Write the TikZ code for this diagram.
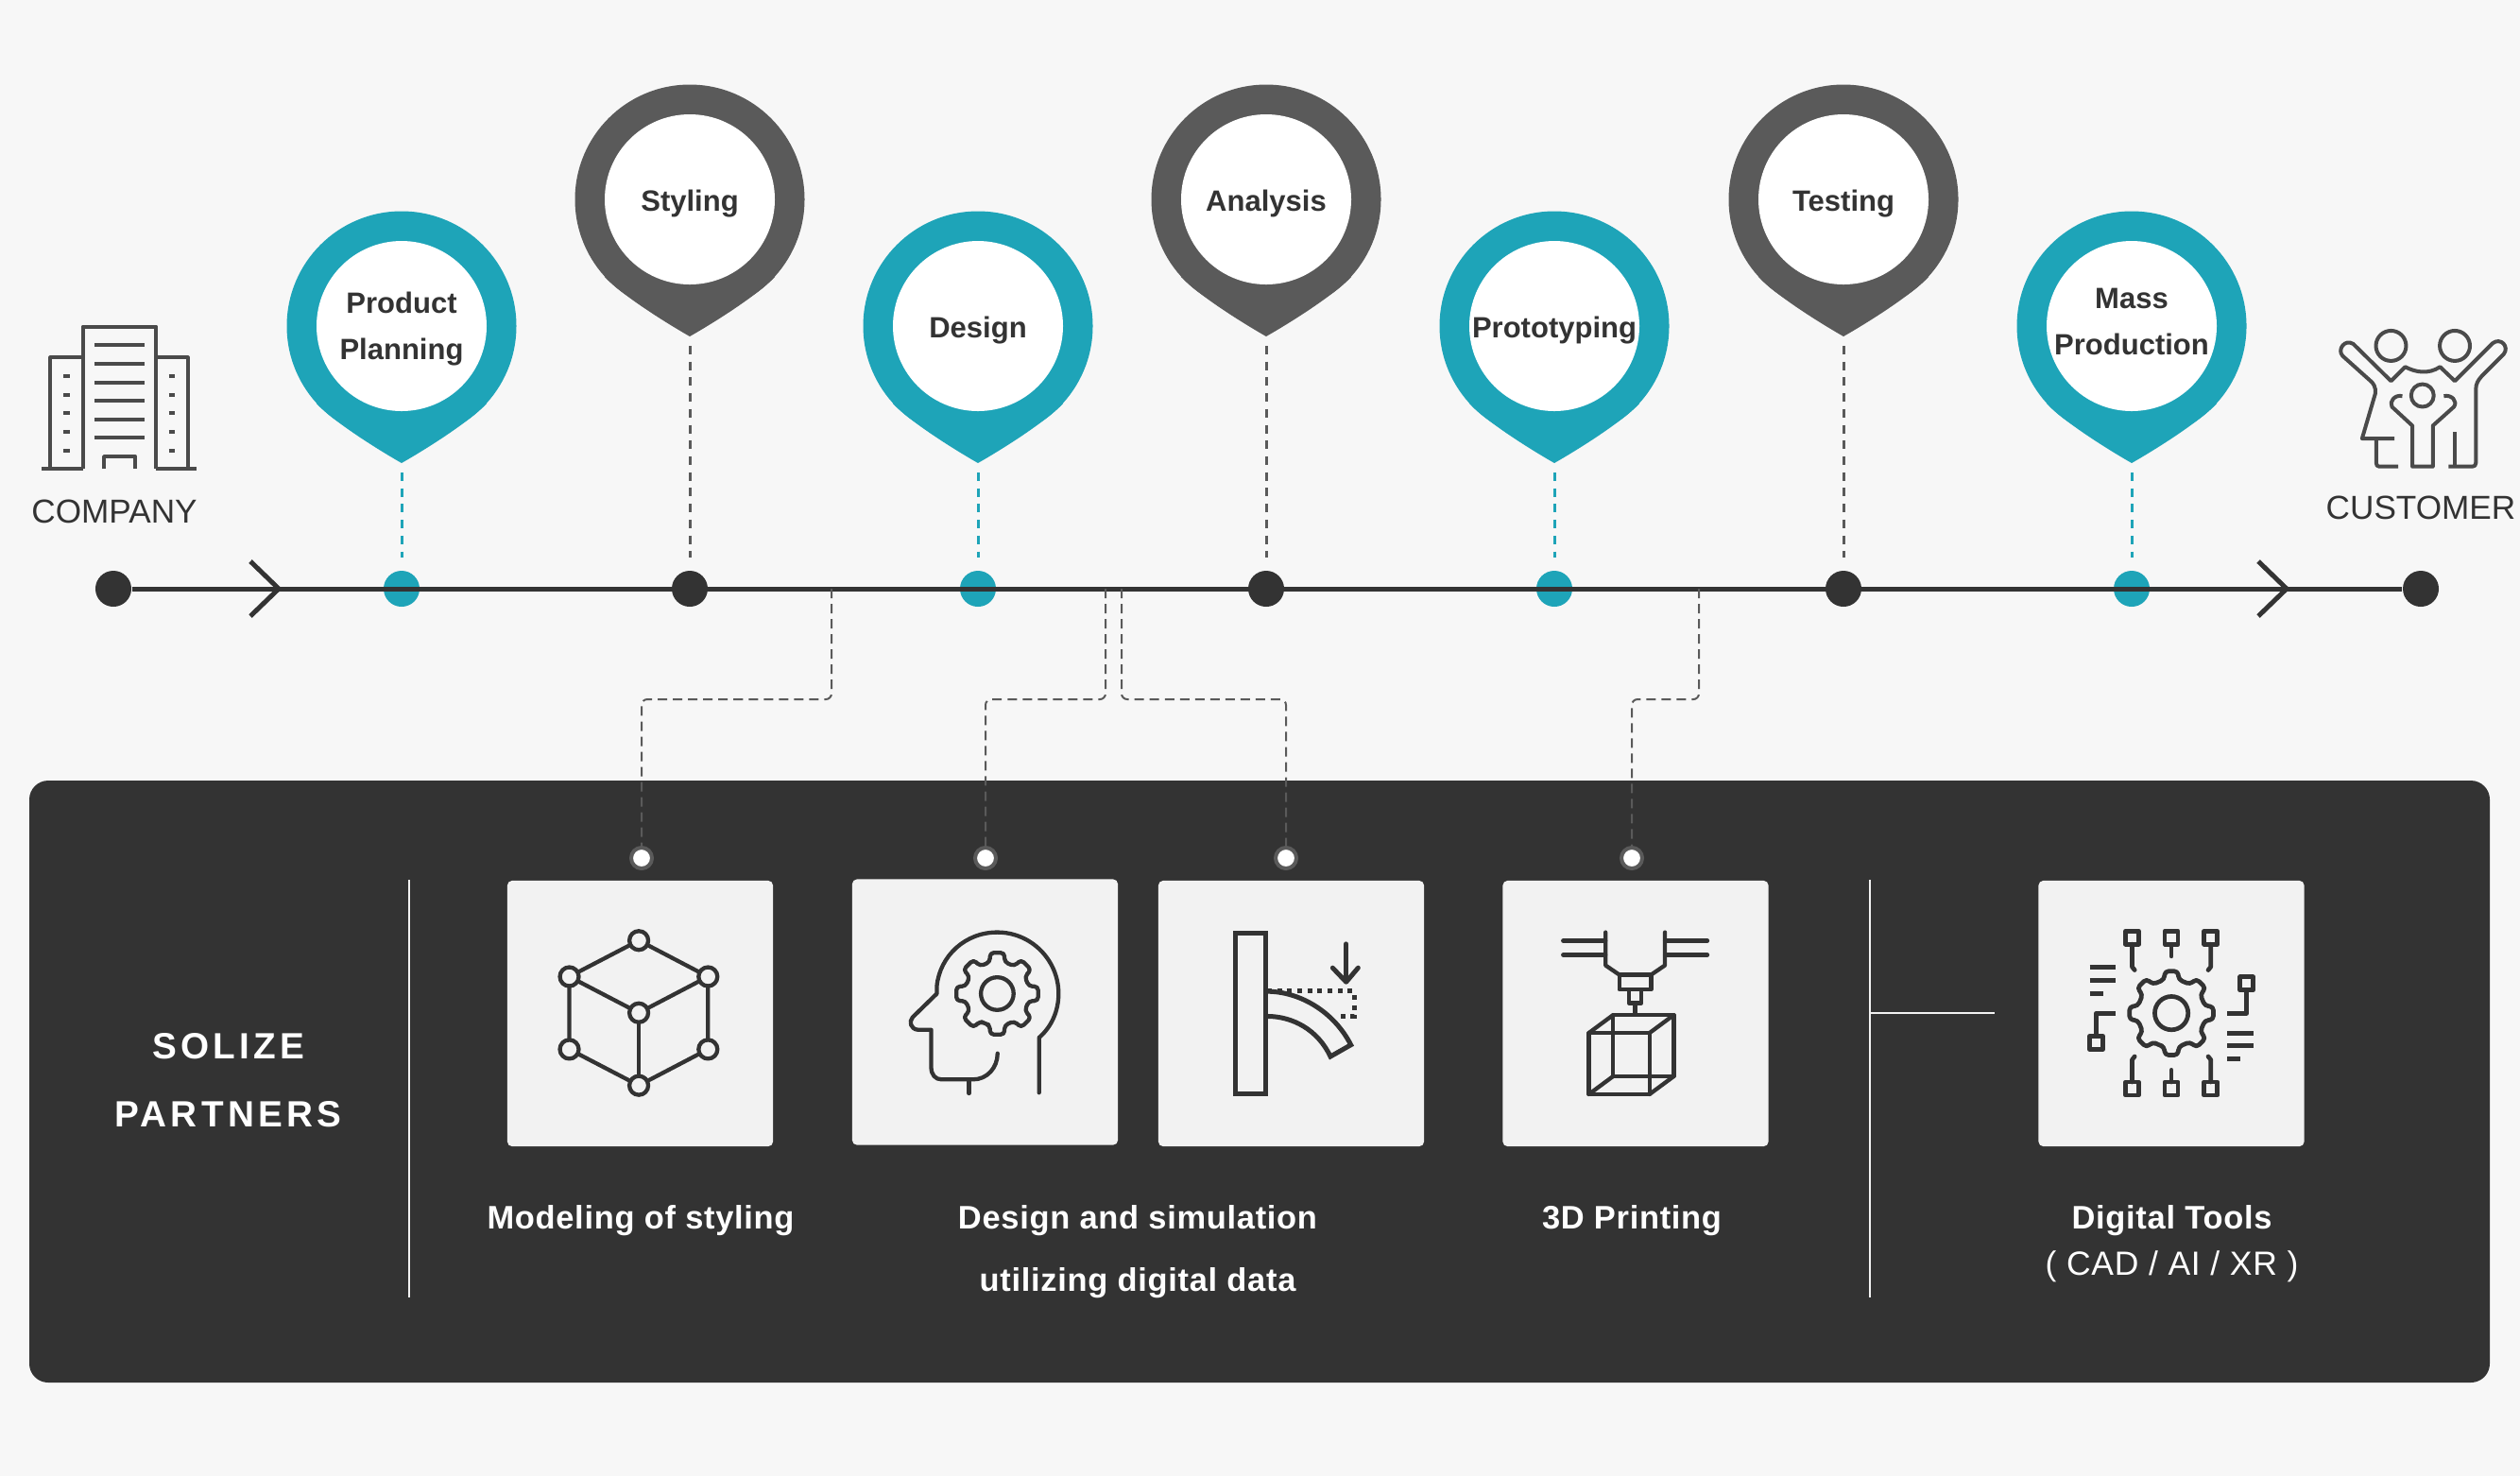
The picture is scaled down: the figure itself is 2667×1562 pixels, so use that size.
\documentclass[tikz,border=0pt]{standalone}
\usepackage{fontspec}
\setmainfont{Liberation Sans}
\newfontfamily\trackedfont[LetterSpace=11]{Liberation Sans}
\newfontfamily\lablfont[LetterSpace=2]{Liberation Sans}
\definecolor{pagegray}{HTML}{F7F7F7}
\definecolor{ink}{HTML}{333333}
\definecolor{pinteal}{HTML}{1EA4B8}
\definecolor{pindark}{HTML}{5A5A5A}
\definecolor{cardgray}{HTML}{F2F2F2}
\definecolor{buildgray}{HTML}{4A4A4A}

% marker pin: x, y of the disc, colour, name of the tip
\newcommand{\markerpin}[4]{%
  \fill[#3] (#1,#2) circle [radius=121.5];
  \fill[#3] (#1,#2+145) .. controls (#1+28,#2+129) and (#1+72,#2+101) .. (#1+90,#2+82)
    -- (#1-90,#2+82) .. controls (#1-72,#2+101) and (#1-28,#2+129) .. (#1,#2+145) -- cycle;
  \fill[white] (#1,#2) circle [radius=90];
  \coordinate (#4) at (#1,#2+145);
}
% gear: outer radius, root radius, half width of a tooth at the top and at the root
\newcommand{\gearpath}[4]{%
  (112.5:#2) foreach \a in {90,45,0,-45,-90,-135,-180,-225} {
    -- (\a+#4:#2) -- (\a+#3:#1) -- (\a-#3:#1) -- (\a-#4:#2) } -- cycle
}

\begin{document}
\begin{tikzpicture}[x=0.01cm, y=-0.01cm,
    pintext/.style={anchor=base, align=center, inner sep=0pt, text=ink,
      font=\fontsize{8.82}{13.8}\selectfont\bfseries},
    headtext/.style={anchor=base, inner sep=0pt, text=ink, font=\fontsize{10}{12}\selectfont},
    paneltext/.style={anchor=base, align=center, inner sep=0pt, text=white,
      font=\lablfont\fontsize{9.8}{18.5}\selectfont\bfseries},
    titletext/.style={anchor=base, inner sep=0pt, text=white,
      font=\trackedfont\fontsize{11}{12}\selectfont\bfseries},
    tealdot/.style={circle, fill=pinteal, inner sep=0pt, minimum size=0.38cm},
    darkdot/.style={circle, fill=ink, inner sep=0pt, minimum size=0.38cm},
    portdot/.style={circle, fill=white, draw=pindark, line width=0.04cm, inner sep=0pt, minimum size=0.22cm},
    card/.style={rectangle, fill=cardgray, rounded corners=0.05cm, inner sep=0pt, minimum size=2.81cm},
    timeline/.style={draw=ink, line width=0.05cm},
    tealdash/.style={draw=pinteal, line width=0.03cm, dash pattern=on 0.09cm off 0.077cm,
      shorten <=0.1cm, shorten >=0.13cm},
    darkdash/.style={draw=pindark, line width=0.03cm, dash pattern=on 0.09cm off 0.077cm,
      shorten <=0.1cm, shorten >=0.13cm},
    partnerdash/.style={draw=pindark, line width=0.02cm, dash pattern=on 0.1cm off 0.06cm,
      rounded corners=0.06cm},
    rule/.style={draw=cardgray, line width=0.025cm},
    iconline/.style={draw=ink, line width=0.043cm, line join=round, line cap=round},
    toolline/.style={draw=ink, line width=0.047cm, line join=round, line cap=round},
    buildline/.style={draw=buildgray, line width=0.04cm, line join=round}]

    \useasboundingbox (0,0) rectangle (2667,1562);
    \fill[pagegray] (0,0) rectangle (2667,1562);

    % constants
    \def\liney{623}
    \def\hiy{211}
    \def\loy{345}

    % pins
    \markerpin{425}{\loy}{pinteal}{tipproduct}
    \markerpin{730}{\hiy}{pindark}{tipstyling}
    \markerpin{1035}{\loy}{pinteal}{tipdesign}
    \markerpin{1340}{\hiy}{pindark}{tipanalysis}
    \markerpin{1645}{\loy}{pinteal}{tipproto}
    \markerpin{1951}{\hiy}{pindark}{tiptesting}
    \markerpin{2256}{\loy}{pinteal}{tipmass}

    \node[pintext] (product) at (425,380) {Product\\Planning};
    \node[pintext] (styling) at (730,223) {Styling};
    \node[pintext] (design) at (1035,357) {Design};
    \node[pintext] (analysis) at (1340,223) {Analysis};
    \node[pintext] (proto) at (1645,357) {Prototyping};
    \node[pintext] (testing) at (1951,223) {Testing};
    \node[pintext] (mass) at (2256,375) {Mass\\Production};

    % time line
    \node[darkdot] (start) at (120,\liney) {};
    \node[tealdot] (dproduct) at (425,\liney) {};
    \node[darkdot] (dstyling) at (730,\liney) {};
    \node[tealdot] (ddesign) at (1035,\liney) {};
    \node[darkdot] (danalysis) at (1340,\liney) {};
    \node[tealdot] (dproto) at (1645,\liney) {};
    \node[darkdot] (dtesting) at (1951,\liney) {};
    \node[tealdot] (dmass) at (2256,\liney) {};
    \node[darkdot] (end) at (2562,\liney) {};
    \draw[timeline] (start) -- (end);
    \draw[timeline] (265,\liney-29) -- (295,\liney) -- (265,\liney+29);
    \draw[timeline] (2390,\liney-29) -- (2420,\liney) -- (2390,\liney+29);

    \draw[tealdash] (tipproduct) -- (dproduct);
    \draw[darkdash] (tipstyling) -- (dstyling);
    \draw[tealdash] (tipdesign) -- (ddesign);
    \draw[darkdash] (tipanalysis) -- (danalysis);
    \draw[tealdash] (tipproto) -- (dproto);
    \draw[darkdash] (tiptesting) -- (dtesting);
    \draw[tealdash] (tipmass) -- (dmass);

    % partner panel
    \fill[ink, rounded corners=0.2cm] (31,826) rectangle (2635,1463);

    \node[card] (cardcube) at (677.5,1072.5) {};
    \node[card] (cardhead) at (1042.5,1071) {};
    \node[card] (cardbeam) at (1366.5,1072.5) {};
    \node[card] (cardprint) at (1731,1072.5) {};
    \node[card] (cardtools) at (2298,1072.5) {};

    \draw[rule] (433,931) -- (433,1373);
    \draw[rule] (1979,931) -- (1979,1373);
    \draw[rule] (1979,1072) -- (2111,1072);

    % links from the time line to the panel
    \coordinate (tapstyling) at (880,\liney);
    \coordinate (taphead) at (1170,\liney);
    \coordinate (tapbeam) at (1187,\liney);
    \coordinate (tapprint) at (1798,\liney);
    \node[portdot] (portcube) at (679,908) {};
    \node[portdot] (porthead) at (1043,908) {};
    \node[portdot] (portbeam) at (1361,908) {};
    \node[portdot] (portprint) at (1727,908) {};
    \draw[partnerdash] (tapstyling) -- (880,740) -| (portcube);
    \draw[partnerdash] (taphead) -- (1170,740) -| (porthead);
    \draw[partnerdash] (tapbeam) -- (1187,740) -| (portbeam);
    \draw[partnerdash] (tapprint) -- (1798,740) -| (portprint);

    % panel texts
    \node[titletext] (solize) at (241.5,1120) {SOLIZE};
    \node[titletext] (partners) at (241.5,1192) {PARTNERS};
    \node[paneltext] (lblcube) at (678,1300) {Modeling of styling};
    \node[paneltext] (lblsim) at (1204,1366) {Design and simulation\\utilizing digital data};
    \node[paneltext] (lblprint) at (1727,1300) {3D Printing};
    \node[paneltext] (lbltools) at (2298.5,1300) {Digital Tools};
    \node[paneltext, font=\lablfont\fontsize{10.1}{12}\selectfont] (lblcad) at (2298.5,1349) {( CAD / AI / XR )};

    % company
    \begin{scope}[shift={(0,300)}, x=0.003333cm, y=-0.003333cm]
      \draw[buildline] (263,590) -- (263,137) -- (497,137) -- (497,590);
      \draw[buildline] (263,235) -- (160,235) -- (160,590);
      \draw[buildline] (497,235) -- (597,235) -- (597,590);
      \draw[buildline] (133,590) -- (263,590);
      \draw[buildline] (497,590) -- (626,590);
      \draw[buildline] (331,590) -- (331,550) -- (430,550) -- (430,590);
      \draw[buildline] (300,196) -- (459,196);
      \draw[buildline] (300,255) -- (459,255);
      \draw[buildline] (300,315) -- (459,315);
      \draw[buildline] (300,374) -- (459,374);
      \draw[buildline] (300,433) -- (459,433);
      \draw[buildline] (300,491) -- (459,491);
      \draw[buildline] (202,295) -- (222,295);
      \draw[buildline] (202,354) -- (222,354);
      \draw[buildline] (202,413) -- (222,413);
      \draw[buildline] (202,472) -- (222,472);
      \draw[buildline] (202,531) -- (222,531);
      \draw[buildline] (537,295) -- (557,295);
      \draw[buildline] (537,354) -- (557,354);
      \draw[buildline] (537,413) -- (557,413);
      \draw[buildline] (537,472) -- (557,472);
      \draw[buildline] (537,531) -- (557,531);
    \end{scope}
    \node[headtext] (company) at (121,553) {COMPANY};

    % customer
    \begin{scope}[shift={(2400,320)}, x=0.003333cm, y=-0.003333cm]
      \draw[buildline] (392,138) circle [radius=48];
      \draw[buildline] (595,138) circle [radius=48];
      \draw[buildline] (492,296) circle [radius=36];
      \draw[buildline] (403,433) -- (300,433) -- (342,290) .. controls (345,270) and (335,255) .. (325,248)
        -- (238,170) .. controls (220,150) and (245,115) .. (272,132) -- (392,250) -- (437,205)
        .. controls (470,222) and (510,230) .. (548,205) -- (595,250) -- (715,130)
        .. controls (740,110) and (770,140) .. (750,165) -- (680,235) .. controls (668,248) and (662,260) .. (662,275)
        -- (662,510) .. controls (662,518) and (658,522) .. (650,522) -- (575,522);
      \draw[buildline] (345,433) -- (345,510) .. controls (345,518) and (348,522) .. (355,522) -- (415,522);
      \draw[buildline] (595,412) -- (595,522);
      \draw[buildline] (428,298) .. controls (405,292) and (385,315) .. (395,332) -- (460,392) -- (460,522)
        -- (525,522) -- (525,392) -- (592,332) .. controls (605,315) and (585,292) .. (560,298);
    \end{scope}
    \node[headtext] (customer) at (2562,549) {CUSTOMER};

    % cube icon
    \begin{scope}[shift={(520,920)}, x=0.003333cm, y=-0.003333cm]
      \draw[iconline] (469,226) -- (248,341) -- (248,572) -- (469,687) -- (689,572) -- (689,341) -- cycle;
      \draw[iconline] (248,341) -- (469,456) -- (689,341);
      \draw[iconline] (469,456) -- (469,687);
      \draw[iconline, fill=cardgray] (469,226) circle [radius=30];
      \draw[iconline, fill=cardgray] (248,341) circle [radius=30];
      \draw[iconline, fill=cardgray] (689,341) circle [radius=30];
      \draw[iconline, fill=cardgray] (469,456) circle [radius=30];
      \draw[iconline, fill=cardgray] (248,572) circle [radius=30];
      \draw[iconline, fill=cardgray] (689,572) circle [radius=30];
      \draw[iconline, fill=cardgray] (469,687) circle [radius=30];
    \end{scope}

    % head icon
    \begin{scope}[shift={(890,920)}, x=0.003333cm, y=-0.003333cm]
      \draw[iconline] (630,710) -- (630,535) .. controls (670,500) and (692,450) .. (692,395)
        .. controls (692,288) and (605,200) .. (497,200) .. controls (395,200) and (315,275) .. (305,370)
        -- (305,395) -- (228,470) .. controls (215,485) and (222,508) .. (245,510) -- (287,510) -- (287,630)
        .. controls (287,652) and (300,668) .. (320,668) -- (420,668) .. controls (465,668) and (498,630) .. (498,585);
      \draw[iconline] (407,668) -- (407,712);
      \begin{scope}[shift={(497,395)}]
        \draw[iconline, rounded corners=0.04cm] \gearpath{132}{103}{10}{13};
        \draw[iconline] (0,0) circle [radius=52];
      \end{scope}
    \end{scope}

    % beam icon
    \begin{scope}[shift={(1215,920)}, x=0.003333cm, y=-0.003333cm]
      \draw[ink, line width=0.05cm, dash pattern=on 0.05cm off 0.057cm] (378,387) -- (655,387) -- (655,468) -- (595,468);
      \draw[ink, line width=0.05cm] (278,203) rectangle (375,714);
      \draw[ink, line width=0.05cm] (378,388) .. controls (480,388) and (590,450) .. (645,558)
        -- (580,595) .. controls (540,510) and (460,467) .. (378,467);
      \draw[iconline, line width=0.05cm] (630,237) -- (630,355);
      \draw[iconline, line width=0.05cm] (587,313) -- (630,358) -- (668,313);
    \end{scope}

    % printer icon
    \begin{scope}[shift={(1580,920)}, x=0.003333cm, y=-0.003333cm]
      \draw[iconline] (223,227) -- (358,227);
      \draw[iconline] (223,272) -- (358,272);
      \draw[iconline] (547,227) -- (682,227);
      \draw[iconline] (547,272) -- (682,272);
      \draw[iconline] (358,200) -- (358,305) -- (402,335);
      \draw[iconline] (547,200) -- (547,305) -- (503,335);
      \draw[iconline] (402,335) rectangle (503,382);
      \draw[iconline] (432,382) rectangle (472,425);
      \draw[iconline] (452,425) -- (452,462);
      \draw[iconline] (305,520) rectangle (498,715);
      \draw[iconline] (382,463) rectangle (575,658);
      \draw[iconline] (305,520) -- (382,463);
      \draw[iconline] (498,520) -- (575,463);
      \draw[iconline] (305,715) -- (382,658);
      \draw[iconline] (498,715) -- (575,658);
    \end{scope}

    % tools icon
    \begin{scope}[shift={(2140,920)}, x=0.003333cm, y=-0.003333cm]
      \begin{scope}[shift={(475,457)}]
        \draw[toolline, rounded corners=0.04cm] \gearpath{135}{109}{9}{12};
        \draw[toolline] (0,0) circle [radius=53];
      \end{scope}
      \draw[toolline] (329,196) rectangle (371,238);
      \draw[toolline] (454,196) rectangle (496,238);
      \draw[toolline] (579,196) rectangle (621,238);
      \draw[toolline] (329,676) rectangle (371,718);
      \draw[toolline] (454,676) rectangle (496,718);
      \draw[toolline] (579,676) rectangle (621,718);
      \draw[toolline] (693,342) rectangle (735,384);
      \draw[toolline] (215,530) rectangle (257,572);
      \draw[toolline] (350,238) -- (350,310) -- (358,320);
      \draw[toolline] (475,238) -- (475,276);
      \draw[toolline] (600,238) -- (600,310) -- (592,320);
      \draw[toolline] (350,676) -- (350,605) -- (358,595);
      \draw[toolline] (475,676) -- (475,638);
      \draw[toolline] (600,676) -- (600,605) -- (592,595);
      \draw[ink, line width=0.05cm] (215,311) -- (298,311);
      \draw[ink, line width=0.05cm] (215,353) -- (298,353);
      \draw[ink, line width=0.05cm] (215,395) -- (257,395);
      \draw[ink, line width=0.05cm] (652,520) -- (736,520);
      \draw[ink, line width=0.05cm] (652,561) -- (736,561);
      \draw[ink, line width=0.05cm] (652,603) -- (694,603);
      \draw[ink, line width=0.05cm, line join=round] (298,457) -- (236,457) -- (236,530);
      \draw[ink, line width=0.05cm, line join=round] (652,457) -- (714,457) -- (714,384);
    \end{scope}

\end{tikzpicture}
\end{document}
